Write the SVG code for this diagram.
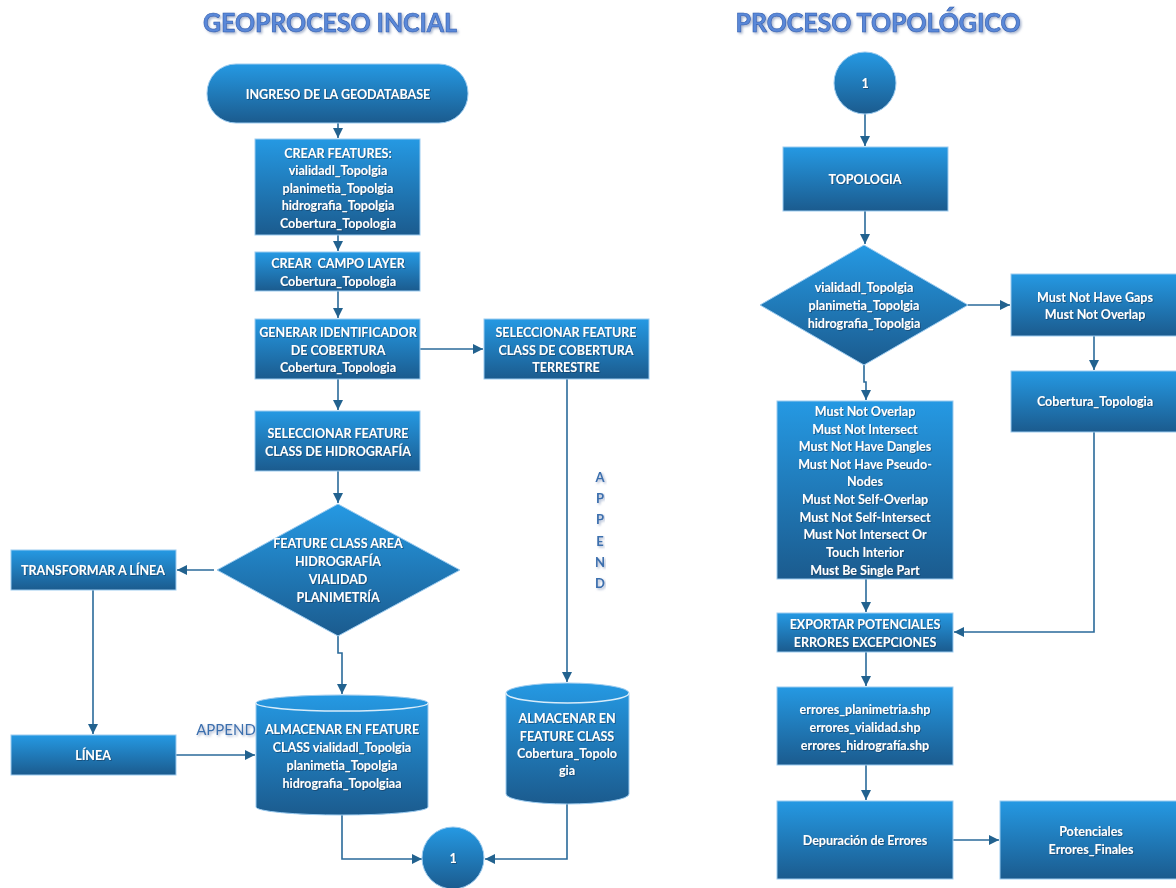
<svg xmlns="http://www.w3.org/2000/svg" width="1176" height="888" viewBox="0 0 1176 888">
<defs>
  <linearGradient id="g" x1="0" y1="0" x2="0" y2="1">
    <stop offset="0" stop-color="#2599E3"/>
    <stop offset="1" stop-color="#1B5B8E"/>
  </linearGradient>
  <filter id="ts" x="-10%" y="-30%" width="120%" height="160%">
    <feDropShadow dx="0.8" dy="0.8" stdDeviation="0.5" flood-color="#0b3354" flood-opacity="0.7"/>
  </filter>
  <filter id="tts" x="-5%" y="-20%" width="110%" height="150%">
    <feDropShadow dx="1.5" dy="1.5" stdDeviation="0.8" flood-color="#7f93b8" flood-opacity="0.7"/>
  </filter>
  <marker id="ah" markerWidth="10" markerHeight="10" refX="10" refY="5" orient="auto" markerUnits="userSpaceOnUse">
    <path d="M0,0 L10,5 L0,10 Z" fill="#22628F"/>
  </marker>
</defs>
<style>
  .n { fill: url(#g); stroke: #9ccbef; stroke-width: 1; }
  .t { font-family: Lato, "Open Sans", sans-serif; font-weight: bold; font-size: 12.5px; fill: #ffffff; text-anchor: middle; dominant-baseline: central; filter: url(#ts); white-space: pre; }
  .c { fill: none; stroke: #2A6A9A; stroke-width: 1.6; }
  .title { font-family: Lato, "Open Sans", sans-serif; font-weight: bold; font-size: 26px; fill: #5A88D8; stroke: #2F5DAE; stroke-width: 0.6; text-anchor: middle; filter: url(#tts); }
  .lab { font-family: Lato, "Open Sans", sans-serif; font-size: 15px; fill: #3B6FAE; text-anchor: middle; dominant-baseline: central; filter: url(#tts); }
  .labb { font-family: Lato, "Open Sans", sans-serif; font-weight: bold; font-size: 13px; fill: #3B6FAE; text-anchor: middle; dominant-baseline: central; filter: url(#tts); }
</style>

<text class="title" x="330" y="32" textLength="254" lengthAdjust="spacingAndGlyphs">GEOPROCESO INCIAL</text>
<text class="title" x="878" y="32" textLength="285" lengthAdjust="spacingAndGlyphs">PROCESO TOPOLÓGICO</text>

<g id="connectors">
  <path class="c" d="M338 123 V138" marker-end="url(#ah)"/>
  <path class="c" d="M338 235 V251" marker-end="url(#ah)"/>
  <path class="c" d="M338 291 V318" marker-end="url(#ah)"/>
  <path class="c" d="M420 349 H483" marker-end="url(#ah)"/>
  <path class="c" d="M338 379 V410" marker-end="url(#ah)"/>
  <path class="c" d="M338 471 V503" marker-end="url(#ah)"/>
  <path class="c" d="M567 379 V682" marker-end="url(#ah)"/>
  <path class="c" d="M214 570 H177" marker-end="url(#ah)"/>
  <path class="c" d="M93 590 V734" marker-end="url(#ah)"/>
  <path class="c" d="M176 755 H255" marker-end="url(#ah)"/>
  <path class="c" d="M338 636 V653 H342 V694" marker-end="url(#ah)"/>
  <path class="c" d="M342 815 V859 H422" marker-end="url(#ah)"/>
  <path class="c" d="M567 804 V859 H485" marker-end="url(#ah)"/>
  <path class="c" d="M865 114 V146" marker-end="url(#ah)"/>
  <path class="c" d="M865 211 V244" marker-end="url(#ah)"/>
  <path class="c" d="M968 305 H1010" marker-end="url(#ah)"/>
  <path class="c" d="M1094 336 V370" marker-end="url(#ah)"/>
  <path class="c" d="M864 365 V382 H866 V400" marker-end="url(#ah)"/>
  <path class="c" d="M1094 432 V632 H954" marker-end="url(#ah)"/>
  <path class="c" d="M866 579 V612" marker-end="url(#ah)"/>
  <path class="c" d="M866 652 V686" marker-end="url(#ah)"/>
  <path class="c" d="M866 765 V800" marker-end="url(#ah)"/>
  <path class="c" d="M953 840 H999" marker-end="url(#ah)"/>
</g>

<g id="ingreso">
  <rect class="n" x="207" y="64" width="261" height="59" rx="29" ry="29"/>
  <text class="t" x="338" y="94">INGRESO DE LA GEODATABASE</text>
</g>

<g id="crear-features">
  <rect class="n" x="255" y="139" width="165" height="96"/>
  <text class="t" x="338" y="153">CREAR FEATURES:</text>
  <text class="t" x="338" y="170">vialidadl_Topolgia</text>
  <text class="t" x="338" y="188">planimetia_Topolgia</text>
  <text class="t" x="338" y="205">hidrografia_Topolgia</text>
  <text class="t" x="338" y="223">Cobertura_Topologia</text>
</g>

<g id="crear-campo">
  <rect class="n" x="255" y="252" width="165" height="39"/>
  <text class="t" x="338" y="263" xml:space="preserve">CREAR  CAMPO LAYER</text>
  <text class="t" x="338" y="281">Cobertura_Topologia</text>
</g>

<g id="generar">
  <rect class="n" x="255" y="319" width="165" height="60"/>
  <text class="t" x="338" y="332">GENERAR IDENTIFICADOR</text>
  <text class="t" x="338" y="350">DE COBERTURA</text>
  <text class="t" x="338" y="367">Cobertura_Topologia</text>
</g>

<g id="sel-cobertura">
  <rect class="n" x="484" y="319" width="165" height="60"/>
  <text class="t" x="566" y="332">SELECCIONAR FEATURE</text>
  <text class="t" x="566" y="350">CLASS DE COBERTURA</text>
  <text class="t" x="566" y="367">TERRESTRE</text>
</g>

<g id="sel-hidro">
  <rect class="n" x="255" y="411" width="165" height="60"/>
  <text class="t" x="338" y="433">SELECCIONAR FEATURE</text>
  <text class="t" x="338" y="451">CLASS DE HIDROGRAFÍA</text>
</g>

<g id="decision-area">
  <polygon class="n" points="338,504 460,570 338,636 217,570"/>
  <text class="t" x="338" y="543">FEATURE CLASS AREA</text>
  <text class="t" x="338" y="561">HIDROGRAFÍA</text>
  <text class="t" x="338" y="579">VIALIDAD</text>
  <text class="t" x="338" y="597">PLANIMETRÍA</text>
</g>

<g id="transformar">
  <rect class="n" x="11" y="550" width="165" height="40"/>
  <text class="t" x="93" y="570">TRANSFORMAR A LÍNEA</text>
</g>

<g id="linea">
  <rect class="n" x="11" y="735" width="165" height="40"/>
  <text class="t" x="93" y="755">LÍNEA</text>
</g>

<g id="append-labels">
  <text class="lab" x="226" y="729">APPEND</text>
  <text class="labb" x="600" y="477">A</text>
  <text class="labb" x="600" y="498">P</text>
  <text class="labb" x="600" y="519">P</text>
  <text class="labb" x="600" y="541">E</text>
  <text class="labb" x="600" y="562">N</text>
  <text class="labb" x="600" y="583">D</text>
</g>

<g id="almacenar-1">
  <path class="n" d="M256 703 A86 8 0 0 1 428 703 V807 A86 8 0 0 1 256 807 Z"/>
  <path d="M256 703 A86 8 0 0 0 428 703" fill="none" stroke="#d8ecfa" stroke-width="1.5"/>
  <text class="t" x="342" y="729">ALMACENAR EN FEATURE</text>
  <text class="t" x="342" y="747">CLASS vialidadl_Topolgia</text>
  <text class="t" x="342" y="765">planimetia_Topolgia</text>
  <text class="t" x="342" y="783">hidrografia_Topolgiaa</text>
</g>

<g id="almacenar-2">
  <path class="n" d="M506 693 A61.5 10 0 0 1 629 693 V794 A61.5 10 0 0 1 506 794 Z"/>
  <path d="M506 693 A61.5 10 0 0 0 629 693" fill="none" stroke="#d8ecfa" stroke-width="1.5"/>
  <text class="t" x="567" y="718">ALMACENAR EN</text>
  <text class="t" x="567" y="736">FEATURE CLASS</text>
  <text class="t" x="567" y="753">Cobertura_Topolo</text>
  <text class="t" x="567" y="770">gia</text>
</g>

<g id="conector-1-a">
  <circle class="n" cx="453" cy="858" r="31"/>
  <text class="t" x="453" y="858">1</text>
</g>

<g id="conector-1-b">
  <circle class="n" cx="865" cy="83" r="31"/>
  <text class="t" x="865" y="83">1</text>
</g>

<g id="topologia">
  <rect class="n" x="783" y="147" width="165" height="64"/>
  <text class="t" x="865" y="179">TOPOLOGIA</text>
</g>

<g id="decision-capas">
  <polygon class="n" points="864,245 968,305 864,365 760,305"/>
  <text class="t" x="864" y="287">vialidadl_Topolgia</text>
  <text class="t" x="864" y="305">planimetia_Topolgia</text>
  <text class="t" x="864" y="323">hidrografia_Topolgia</text>
</g>

<g id="reglas-cobertura">
  <rect class="n" x="1011" y="274" width="167" height="62"/>
  <text class="t" x="1095" y="297">Must Not Have Gaps</text>
  <text class="t" x="1095" y="314">Must Not Overlap</text>
</g>

<g id="cobertura-topologia">
  <rect class="n" x="1011" y="371" width="167" height="61"/>
  <text class="t" x="1095" y="401">Cobertura_Topologia</text>
</g>

<g id="reglas-lineas">
  <rect class="n" x="777" y="401" width="176" height="178"/>
  <text class="t" x="865" y="411">Must Not Overlap</text>
  <text class="t" x="865" y="429">Must Not Intersect</text>
  <text class="t" x="865" y="446">Must Not Have Dangles</text>
  <text class="t" x="865" y="464">Must Not Have Pseudo-</text>
  <text class="t" x="865" y="481">Nodes</text>
  <text class="t" x="865" y="499">Must Not Self-Overlap</text>
  <text class="t" x="865" y="517">Must Not Self-Intersect</text>
  <text class="t" x="865" y="534">Must Not Intersect Or</text>
  <text class="t" x="865" y="552">Touch Interior</text>
  <text class="t" x="865" y="570">Must Be Single Part</text>
</g>

<g id="exportar">
  <rect class="n" x="777" y="613" width="176" height="39"/>
  <text class="t" x="865" y="624">EXPORTAR POTENCIALES</text>
  <text class="t" x="865" y="642">ERRORES EXCEPCIONES</text>
</g>

<g id="errores">
  <rect class="n" x="777" y="687" width="176" height="78"/>
  <text class="t" x="865" y="709">errores_planimetria.shp</text>
  <text class="t" x="865" y="727">errores_vialidad.shp</text>
  <text class="t" x="865" y="745">errores_hidrografía.shp</text>
</g>

<g id="depuracion">
  <rect class="n" x="777" y="801" width="176" height="78"/>
  <text class="t" x="865" y="840">Depuración de Errores</text>
</g>

<g id="potenciales">
  <rect class="n" x="1000" y="801" width="182" height="78"/>
  <text class="t" x="1091" y="831">Potenciales</text>
  <text class="t" x="1091" y="849">Errores_Finales</text>
</g>
</svg>
